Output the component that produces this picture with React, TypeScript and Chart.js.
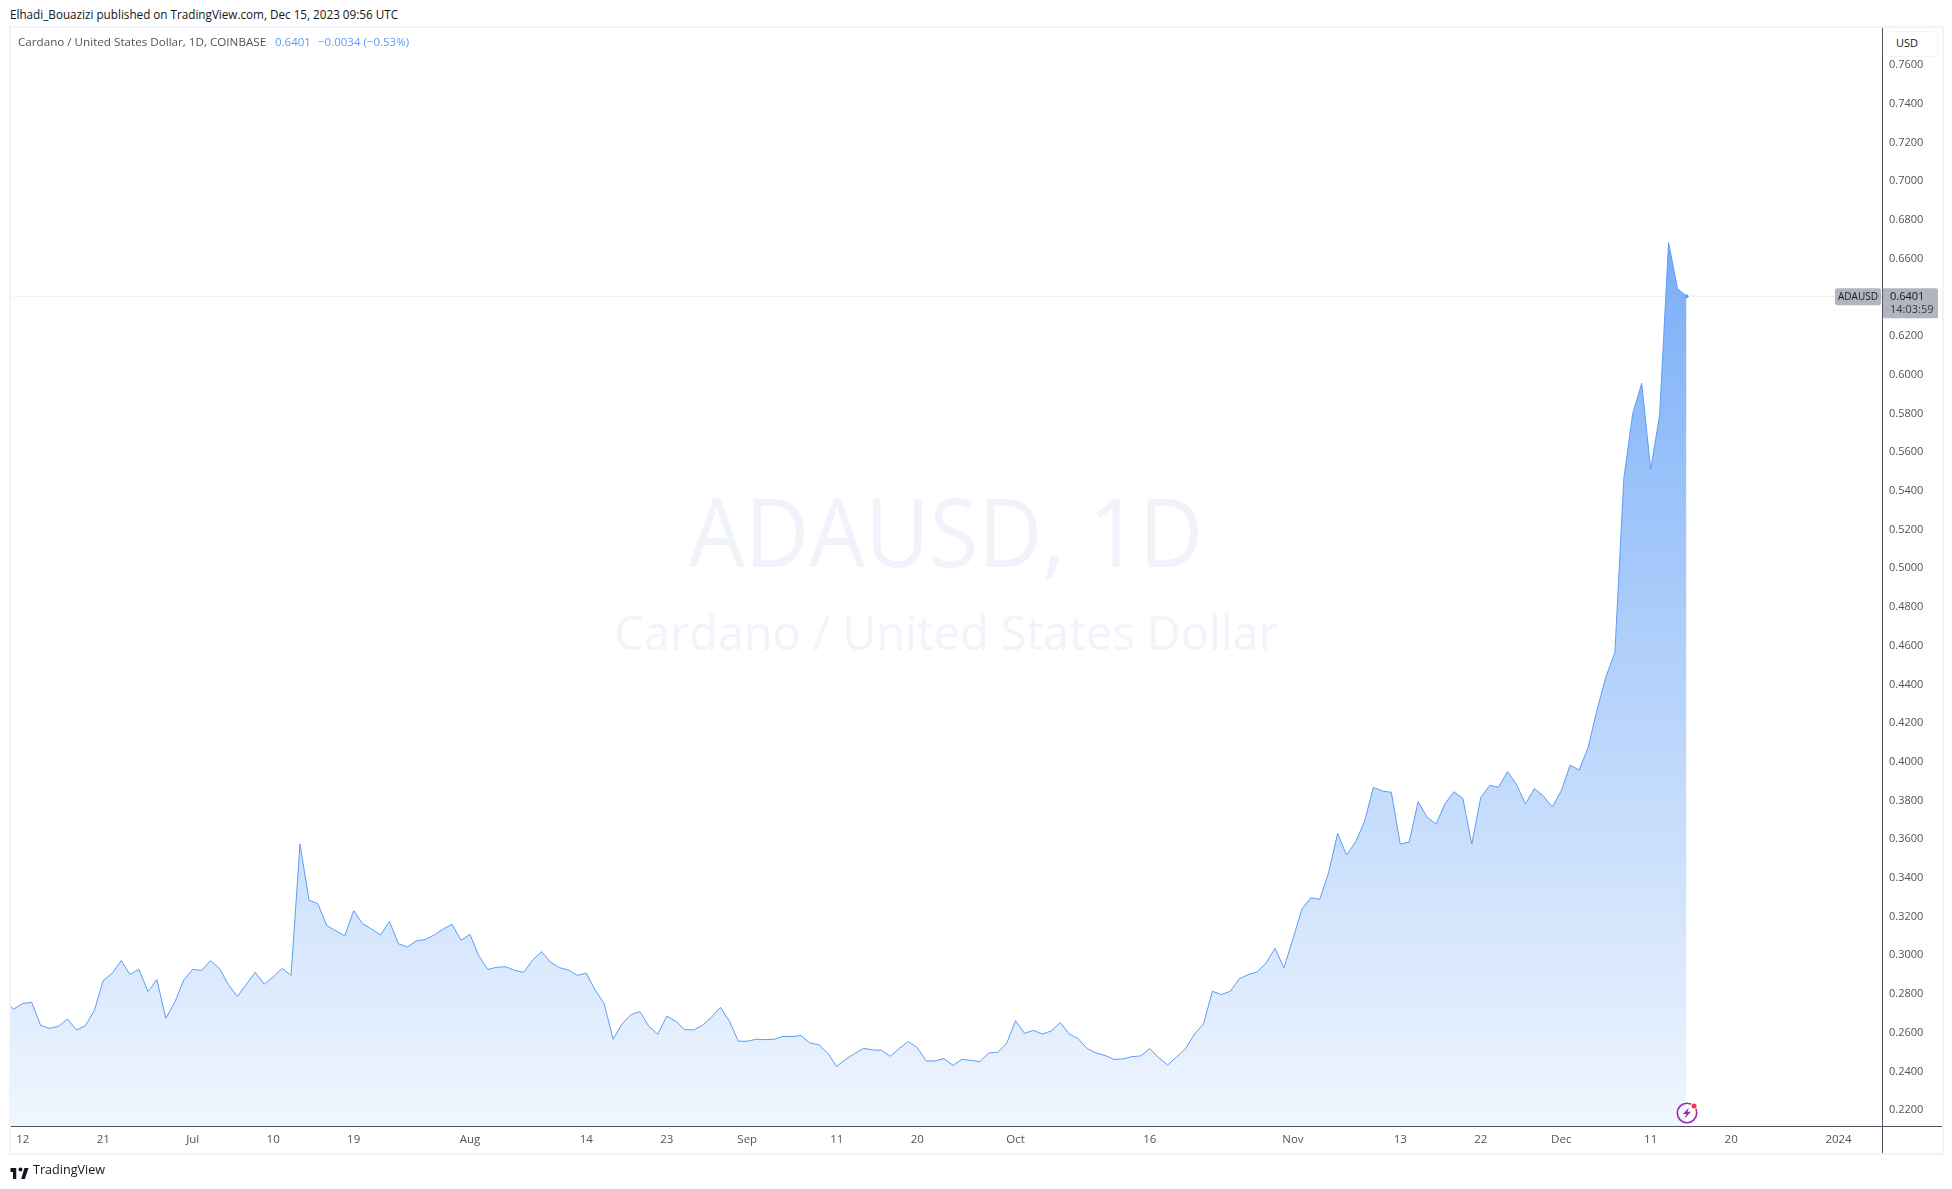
import React, { useEffect, useRef } from "react";
import { Chart, registerables } from "chart.js";

Chart.register(...registerables);

// Daily close values, starting 10 Jun 2023 (day 0) and ending 15 Dec 2023
const closeJun = [0.2757, 0.2717, 0.2746, 0.2752, 0.2633, 0.2617, 0.2628, 0.2666, 0.2609, 0.2631, 0.2709, 0.2864, 0.2902, 0.2967, 0.2896, 0.2922, 0.2807, 0.2869, 0.2669, 0.2752, 0.2867];
const closeJul = [0.2922, 0.2917, 0.2967, 0.2926, 0.2843, 0.2783, 0.2845, 0.2907, 0.2846, 0.2883, 0.2927, 0.2891, 0.357, 0.328, 0.3262, 0.3148, 0.3122, 0.3095, 0.3226, 0.3158, 0.3131, 0.31, 0.317, 0.3055, 0.3038, 0.3069, 0.3077, 0.31, 0.3131, 0.3155, 0.3072];
const closeAug = [0.3103, 0.2991, 0.2922, 0.2933, 0.2936, 0.2917, 0.2907, 0.297, 0.3014, 0.296, 0.2931, 0.2919, 0.2891, 0.2903, 0.2815, 0.2745, 0.2561, 0.264, 0.2688, 0.2704, 0.2628, 0.2587, 0.268, 0.2655, 0.2611, 0.2609, 0.2633, 0.2675, 0.2726, 0.2655, 0.2551];
const closeSep = [0.2551, 0.2561, 0.2559, 0.2561, 0.2576, 0.2575, 0.258, 0.2542, 0.2533, 0.2489, 0.2421, 0.2457, 0.2487, 0.2514, 0.2506, 0.2504, 0.2473, 0.2514, 0.2549, 0.2518, 0.2449, 0.2449, 0.2461, 0.2426, 0.2457, 0.2452, 0.2445, 0.249, 0.2494, 0.254];
const closeOct = [0.2657, 0.2592, 0.2607, 0.2588, 0.2604, 0.2647, 0.2588, 0.2564, 0.2513, 0.249, 0.2477, 0.2457, 0.2459, 0.2471, 0.2475, 0.2513, 0.2466, 0.2428, 0.247, 0.2513, 0.2588, 0.264, 0.2809, 0.2792, 0.2809, 0.2873, 0.2895, 0.2909, 0.2955, 0.3031, 0.293];
const closeNov = [0.3079, 0.3233, 0.3292, 0.3284, 0.3423, 0.3625, 0.3513, 0.358, 0.3685, 0.3863, 0.3844, 0.3837, 0.357, 0.358, 0.3789, 0.3709, 0.3673, 0.3778, 0.384, 0.3806, 0.357, 0.3809, 0.3873, 0.3864, 0.3944, 0.3878, 0.3778, 0.3857, 0.3818, 0.3761];
const closeDec = [0.3845, 0.3978, 0.3952, 0.4068, 0.4263, 0.4435, 0.4559, 0.546, 0.5796, 0.5951, 0.5506, 0.5787, 0.6678, 0.644, 0.6401];

const priceTicks = [0.22, 0.24, 0.26, 0.28, 0.3, 0.32, 0.34, 0.36, 0.38, 0.4, 0.42, 0.44, 0.46, 0.48, 0.5, 0.52, 0.54, 0.56, 0.58, 0.6, 0.62, 0.64, 0.66, 0.68, 0.7, 0.72, 0.74, 0.76];
const timeTickDays = [2, 11, 21, 30, 39, 52, 65, 74, 83, 93, 102, 113, 128, 144, 156, 165, 174, 184, 193, 205];
const timeTickLabels = ["12", "21", "Jul", "10", "19", "Aug", "14", "23", "Sep", "11", "20", "Oct", "16", "Nov", "13", "22", "Dec", "11", "20", "2024"];

const lastPrice = 0.6401;
const FONT = '"Open Sans", sans-serif';

const closes = [...closeJun, ...closeJul, ...closeAug, ...closeSep, ...closeOct, ...closeNov, ...closeDec];

const tagsPlugin = {
  id: "tags",
  afterDraw(chart: any) {
    const { ctx, scales } = chart;
    const y = scales.y.getPixelForValue(lastPrice);
    ctx.save();
    ctx.fillStyle = "#b2b5be";
    ctx.beginPath();
    ctx.roundRect(1835, y - 8, 46, 17, 2);
    ctx.fill();
    ctx.beginPath();
    ctx.roundRect(1882, y - 8, 56, 30, 2);
    ctx.fill();
    ctx.textBaseline = "middle";
    ctx.textAlign = "left";
    ctx.font = `10px ${FONT}`;
    ctx.fillStyle = "#131722";
    ctx.fillText("ADAUSD", 1838, y + 0.5);
    ctx.font = `11px ${FONT}`;
    ctx.fillText("0.6401", 1890, y + 0.5);
    ctx.fillStyle = "#363a45";
    ctx.fillText("14:03:59", 1890, y + 13.5);
    ctx.restore();
  },
};

export default function App() {
  const ref = useRef<HTMLCanvasElement>(null);
  useEffect(() => {
    const chart = new Chart(ref.current as HTMLCanvasElement, {
      type: "line",
      data: {
        datasets: [
          {
            label: "Last price",
            data: [{ x: 0, y: lastPrice }, { x: 300, y: lastPrice }],
            borderColor: "#b2b5be",
            borderWidth: 1,
            borderDash: [1, 3],
            pointRadius: 0,
            fill: false,
            order: 0,
          },
          {
            label: "ADAUSD",
            data: closes.map((y, x) => ({ x, y })),
            borderColor: "#5b9cf6",
            borderWidth: 1,
            tension: 0,
            pointRadius: (c: any) => (c.dataIndex === closes.length - 1 ? 2 : 0),
            pointBackgroundColor: "#5b9cf6",
            pointBorderWidth: 0,
            fill: "start",
            backgroundColor: (c: any) => {
              const area = c.chart.chartArea;
              if (!area) return "#cfe1fb";
              const top = c.chart.scales.y.getPixelForValue(0.6678);
              const g = c.chart.ctx.createLinearGradient(0, top, 0, area.bottom);
              g.addColorStop(0, "rgb(122,174,248)");
              g.addColorStop(1, "rgb(240,246,254)");
              return g;
            },
            order: 1,
          },
        ],
      },
      options: {
        animation: false,
        responsive: false,
        events: [],
        layout: { padding: { left: 11, top: 28, right: 10, bottom: 36 } },
        plugins: { legend: { display: false }, tooltip: { enabled: false } },
        scales: {
          x: {
            type: "linear",
            bounds: "data",
            min: 0.69,
            max: 209.86,
            grid: { display: false, drawTicks: false },
            border: { display: false },
            afterFit: (s: any) => { s.height = 27; },
            afterBuildTicks: (s: any) => { s.ticks = timeTickDays.map((value) => ({ value })); },
            ticks: {
              autoSkip: false,
              maxRotation: 0,
              padding: 7,
              color: "#50535e",
              font: { family: FONT, size: 11.5 },
              callback: (v: any) => timeTickLabels[timeTickDays.indexOf(v)],
            },
          },
          y: {
            type: "linear",
            position: "right",
            bounds: "data",
            min: 0.21127,
            max: 0.77871,
            grid: { display: false, drawTicks: false },
            border: { display: false },
            afterFit: (s: any) => { s.width = 60; },
            afterBuildTicks: (s: any) => { s.ticks = priceTicks.map((value) => ({ value })); },
            ticks: {
              padding: 7,
              labelOffset: 1,
              color: "#50535e",
              font: { family: FONT, size: 11 },
              callback: (v: any) => Number(v).toFixed(4),
            },
          },
        },
      },
      plugins: [tagsPlugin],
    } as any);
    return () => chart.destroy();
  }, []);

  const abs = (s: React.CSSProperties): React.CSSProperties => ({ position: "absolute", ...s });
  const text = (s: React.CSSProperties): React.CSSProperties => ({
    position: "absolute",
    fontFamily: FONT,
    whiteSpace: "nowrap",
    lineHeight: "14px",
    ...s,
  });

  return (
    <div style={abs({ left: 0, top: 0, width: 1952, height: 1189, background: "#fff", overflow: "hidden" })}>
      <div style={text({ left: 10, top: 7, fontSize: 11.7, color: "#131722" })}>
        Elhadi_Bouazizi published on TradingView.com, Dec 15, 2023 09:56 UTC
      </div>
      <div style={abs({ left: 9, top: 26, width: 1931, height: 1125, border: "2px solid #f0f3fa" })} />
      <div style={text({ left: 546, top: 462, width: 800, textAlign: "center", lineHeight: "136px", fontSize: 96, color: "#f0f3fa", transform: "scaleX(0.923)" })}>
        ADAUSD, 1D
      </div>
      <div style={text({ left: 446, top: 599, width: 1000, textAlign: "center", lineHeight: "66px", fontSize: 48, color: "#f2f4fb", transform: "scaleX(0.976)" })}>
        Cardano / United States Dollar
      </div>
      <canvas ref={ref} width={1952} height={1189} style={abs({ left: 0, top: 0, width: 1952, height: 1189 })} />
      <div style={abs({ left: 11, top: 1126, width: 1931, height: 1, background: "#50535e" })} />
      <div style={abs({ left: 1882, top: 28, width: 1, height: 1125, background: "#50535e" })} />
      <div style={text({ left: 18, top: 35, fontSize: 11.65, color: "#50535e" })}>
        Cardano / United States Dollar, 1D, COINBASE
      </div>
      <div style={text({ left: 275, top: 35, fontSize: 11.5, color: "#5b9cf6" })}>0.6401</div>
      <div style={text({ left: 318, top: 35, fontSize: 11.5, color: "#5b9cf6" })}>−0.0034 (−0.53%)</div>
      <div style={abs({ left: 1886, top: 31, width: 50, height: 24, background: "#fff", border: "1px solid #f0f3fa", borderRadius: 5 })} />
      <div style={text({ left: 1896, top: 36, fontSize: 11, color: "#131722" })}>USD</div>
      <svg style={abs({ left: 1675, top: 1101 })} width="24" height="24" viewBox="0 0 24 24">
        <circle cx="12" cy="12" r="9.7" fill="none" stroke="#9c27b0" strokeWidth="1.6" />
        <path d="M14 6.5 L8 13 H11.5 L9.5 17.5 L16 10.8 H12.5 Z" fill="#9c27b0" />
        <circle cx="19" cy="5" r="3.4" fill="#fff" />
        <circle cx="19" cy="5" r="2.5" fill="#f23645" />
      </svg>
      <svg style={abs({ left: 10, top: 1165 })} width="19" height="14" viewBox="0 0 36 28">
        <path d="M14 6H0v8h6v14h8V6Zm21 22h-9L34 6h10l-9 22Z" transform="scale(.82 1)" fill="#131722" />
        <circle cx="20" cy="9" r="4" fill="#131722" />
      </svg>
      <div style={text({ left: 33, top: 1163, fontSize: 12.6, color: "#131722" })}>TradingView</div>
    </div>
  );
}
